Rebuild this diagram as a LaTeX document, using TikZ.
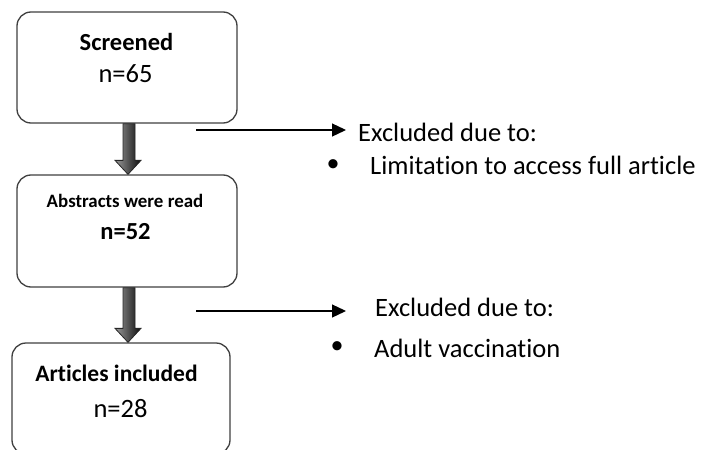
\documentclass[tikz,border=0pt]{standalone}
\usepackage{fontspec}
\setmainfont{Carlito}[Ligatures=NoCommon, RawFeature={-liga;-clig;-calt;-dlig}]
\usetikzlibrary{arrows.meta,calc}
\begin{document}
\begin{tikzpicture}[x=1pt,y=-1pt,
  box/.style={draw=black!75, line width=1.3pt, rounded corners=14pt, inner sep=0pt, fill=white},
  boxtitle/.style={inner sep=0pt, anchor=center, font=\bfseries},
  side/.style={inner sep=0pt, anchor=west, font=\fontsize{26.5}{30}\selectfont},
  bigarrow/.style={left color=black!40, right color=black!95, draw=black!85, line width=0.8pt},
  thin/.style={line width=1.3pt, -{Triangle[length=14pt,width=13pt]}, shorten >=12pt}
]
\useasboundingbox (0,0) rectangle (716,450);
\clip (0,0) rectangle (716,450);
\fill[white] (0,0) rectangle (716,450);

% boxes
\node[box, minimum width=220pt, minimum height=111pt] (b1) at (127,67.5) {};
\node[box, minimum width=220pt, minimum height=112pt] (b2) at (127,231) {};
\node[box, minimum width=218pt, minimum height=111pt] (b3) at (121,398.5) {};

% box texts
\node[boxtitle, font=\bfseries\fontsize{24.5}{28}\selectfont] (t1) at (126.5,42) {Screened};
\node[inner sep=0pt, font=\fontsize{26.5}{30}\selectfont] (n1) at (125.5,74) {n=65};
\node[boxtitle, font=\bfseries\fontsize{18.9}{22}\selectfont] (t2) at (125,201) {Abstracts were read};
\node[inner sep=0pt, font=\bfseries\fontsize{24.5}{28}\selectfont] (n2) at (125.5,232) {n=52};
\node[boxtitle, font=\bfseries\fontsize{23.5}{28}\selectfont] (t3) at (116.5,373) {Articles included};
\node[inner sep=0pt, font=\fontsize{26.5}{30}\selectfont] (n3) at (120.5,409) {n=28};

% thick down arrows
\foreach \a/\b in {b1/b2,b2/b3}{
  \path[bigarrow]
    ($(\a.south)+(-4,0)$) -- ($(\a.south)+(8,0)$)
    -- ($(\a.south |- \b.north)+(8,-14)$) -- ($(\a.south |- \b.north)+(14,-14)$)
    -- ($(\a.south |- \b.north)+(1,0)$)
    -- ($(\a.south |- \b.north)+(-12,-14)$) -- ($(\a.south |- \b.north)+(-4,-14)$)
    -- cycle;
}

% side texts
\node[side] (ex1) at (358,132) {Excluded due to:};
\node[inner sep=0pt, font=\fontsize{26}{30}\selectfont] (bu1) at (333,166) {•};
\node[side] (li1) at (370,165) {Limitation to access full article};
\node[side] (ex2) at (375,307) {Excluded due to:};
\node[inner sep=0pt, font=\fontsize{26}{30}\selectfont] (bu2) at (337,348) {•};
\node[side] (li2) at (374,348) {Adult vaccination};

% thin arrows
\coordinate (s1) at (196,130);
\coordinate (s2) at (196,311);
\draw[thin] (s1) -- (s1 -| ex1.west);
\draw[thin, shorten >=29pt] (s2) -- (s2 -| ex2.west);
\end{tikzpicture}
\end{document}
